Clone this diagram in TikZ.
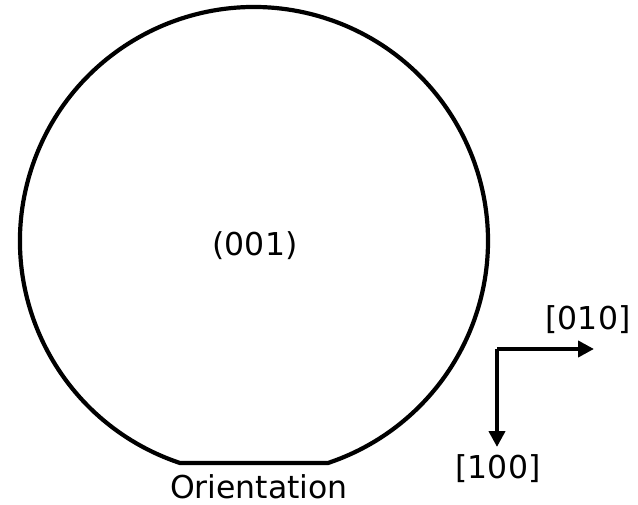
\documentclass[tikz,border=0pt]{standalone}
\usepackage{fontspec}
\setmainfont{DejaVu Sans}
\usetikzlibrary{arrows.meta}
\begin{document}
\begin{tikzpicture}[x=1pt,y=-1pt,
  wafer/.style={line width=4.2pt,line join=round},
  axis/.style={line width=4.5pt,-{Triangle[length=16pt,width=16pt]}},
  lbl/.style={font=\fontsize{31.5}{36}\selectfont,inner sep=0pt,anchor=base}]
\useasboundingbox (0,0) rectangle (638,505);
% wafer: circle centre (254,241), r=234, flat at y=463
\draw[wafer] (180,463) arc[start angle=108.43,end angle=431.57,radius=234] -- cycle;
\node[lbl] (w) at (255,256) {(001)};
\node[lbl] (o) at (259,498) {Orientation};
\coordinate (k) at (497,349);
\coordinate (r) at (594,349);
\coordinate (d) at (497,447);
\draw[axis] (k) -- (r);
\draw[axis] (k) -- (d);
\node[lbl] (l1) at (588,330) {[010]};
\node[lbl] (l2) at (498,478) {[100]};
\end{tikzpicture}
\end{document}
